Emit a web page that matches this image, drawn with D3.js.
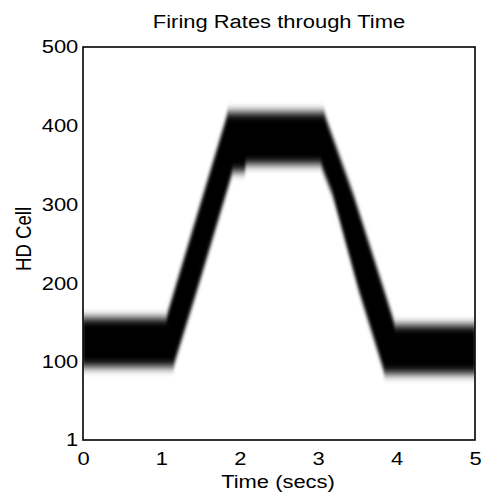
<!DOCTYPE html>
<html lang="en">
<head>
    <meta charset="UTF-8">
    <title>Firing Rates through Time</title>
    <style>
        body{
            margin:0px;
            background-color: white;
        }
        svg{
            display: block;
        }
        text{
            font-family: "Liberation Sans", Arial, Helvetica, sans-serif;
            fill: black;
        }
    </style>
</head>
<body>
    <svg></svg>

    <script src="https://d3js.org/d3.v7.min.js"></script>
    <script>
        // Edges of the active bump (HD cell index)
        var upperTimes = [0, 1.06, 1.85, 3.07, 3.45, 3.84, 3.98, 5];
        var upperCells = [156, 156, 417, 417, 312, 191, 147, 147];

        var lowerTimes = [0, 1.15, 1.445, 1.91, 2.06, 2.08, 3.03, 3.184, 3.517, 3.85, 5];
        var lowerCells = [94, 94, 188, 342, 342, 351, 351, 312, 191, 85, 85];

        var xTicks = [0, 1, 2, 3, 4, 5];
        var yTicks = [1, 100, 200, 300, 400, 500];

        const W = 481, H = 496;
        const margin = {left: 83, right: 6, top: 47, bottom: 56};
        const fontSize = 18.6, stretch = 1.18;

        let svg = d3.select("svg")
            .attr("width", W)
            .attr("height", H);

        let x = d3.scaleLinear().domain([0, 5]).range([margin.left, W - margin.right]);
        let y = d3.scaleLinear().domain([1, 500]).range([H - margin.bottom, margin.top]);

        let defs = svg.append("defs");
        defs.append("clipPath").attr("id", "plotclip")
            .append("rect")
            .attr("x", x(0)).attr("y", y(500))
            .attr("width", x(5) - x(0)).attr("height", y(1) - y(500));
        defs.append("filter").attr("id", "vblur")
            .attr("x", "-5%").attr("y", "-20%").attr("width", "110%").attr("height", "140%")
            .append("feGaussianBlur")
            .attr("stdDeviation", "1 5");

        // band outline: upper edge forward, lower edge back
        let upper = upperTimes.map((t, i) => [t, upperCells[i]]);
        let lower = lowerTimes.map((t, i) => [t, lowerCells[i]]).reverse();
        let line = d3.line().x(d => x(d[0])).y(d => y(d[1]));

        svg.append("g")
            .attr("clip-path", "url(#plotclip)")
            .append("path")
            .attr("d", line(upper.concat(lower)) + "Z")
            .attr("fill", "black")
            .attr("filter", "url(#vblur)");

        // axes
        let yAxis = svg.append("g")
            .attr("transform", "translate(" + margin.left + ",0)")
            .call(d3.axisLeft(y).tickValues(yTicks).tickSize(0).tickPadding(4));
        let xAxis = svg.append("g")
            .attr("transform", "translate(0," + (H - margin.bottom) + ")")
            .call(d3.axisBottom(x).tickValues(xTicks).tickSize(0).tickPadding(12).tickFormat(d3.format("d")));

        [xAxis, yAxis].forEach(a => {
            a.select(".domain").remove();
            a.selectAll("text")
                .attr("font-size", fontSize)
                .attr("font-family", "Liberation Sans, Arial, sans-serif")
                .attr("fill", "black")
                .attr("transform", "scale(" + stretch + ",1)");
        });

        svg.append("rect")
            .attr("x", x(0)).attr("y", y(500))
            .attr("width", x(5) - x(0)).attr("height", y(1) - y(500))
            .attr("fill", "none")
            .attr("stroke", "black")
            .attr("stroke-width", 1.6);

        // labels
        svg.append("text")
            .attr("transform", "translate(279,28) scale(" + stretch + ",1)")
            .attr("text-anchor", "middle")
            .attr("font-size", fontSize)
            .text("Firing Rates through Time");

        svg.append("text")
            .attr("transform", "translate(278,488) scale(" + stretch + ",1)")
            .attr("text-anchor", "middle")
            .attr("font-size", fontSize)
            .text("Time (secs)");

        svg.append("text")
            .attr("transform", "translate(31,239) scale(" + stretch + ",1) rotate(-90)")
            .attr("text-anchor", "middle")
            .attr("font-size", fontSize)
            .text("HD Cell");
    </script>
</body>
</html>
